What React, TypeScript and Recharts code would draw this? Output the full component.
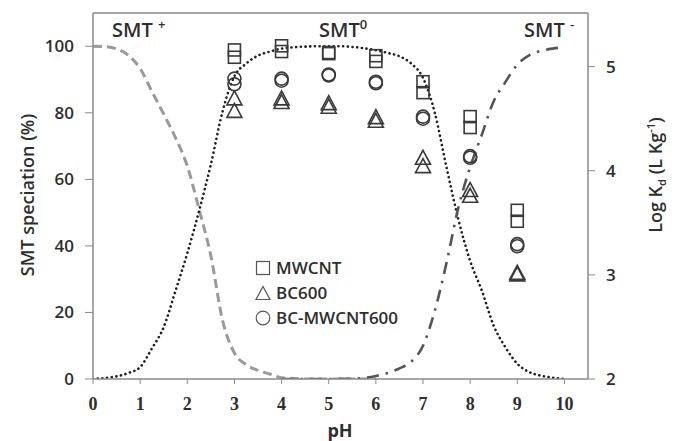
import React from "react";
import {
  ComposedChart,
  Line,
  Scatter,
  XAxis,
  YAxis,
  ReferenceLine,
} from "recharts";

// pH grid for the speciation curves
const curvePH = [
  0, 0.25, 0.5, 0.75, 1, 1.25, 1.5, 1.75, 2, 2.25, 2.5, 2.75, 3, 3.25, 3.5,
  3.75, 4, 4.25, 4.5, 4.75, 5, 5.25, 5.5, 5.75, 6, 6.25, 6.5, 6.75, 7, 7.25,
  7.5, 7.75, 8, 8.25, 8.5, 8.75, 9, 9.25, 9.5, 9.75, 10,
];

// SMT+ (dashed)
const smtPlus = [
  100, 99.9, 99.2, 97.3, 93.3, 86.4, 79.6, 72.5, 64, 51, 37, 17.5, 7.8, 4.3,
  2.6, 1.5, 0.4, 0.15, 0, 0, 0, 0, 0, 0, 0, null, null, null, null, null,
  null, null, null, null, null, null, null, null, null, null, null,
];

// SMT0 (dotted)
const smtZero = [
  0, 0.3, 0.8, 1.8, 3.6, 9.2, 15.6, 26.5, 37.8, 50.5, 64.5, 80.5, 91, 94.8,
  97.2, 98.4, 99.3, 99.7, 99.9, 100, 100, 100, 99.8, 99.4, 98.8, 98, 97, 94.8,
  90.5, 80, 63.5, 48, 35.5, 26.5, 16, 9.5, 4.6, 2.1, 1, 0.4, 0,
];

// SMT- (dash-dot)
const smtMinus = [
  null, null, null, null, null, null, null, null, null, null, null, null, null,
  null, null, null, 0, 0, 0, 0, 0, 0.05, 0.1, 0.3, 0.9, 1.8, 3.2, 5.2, 10,
  20.5, 35, 51.5, 63.7, 73.5, 83.5, 89.3, 94.5, 97.3, 98.6, 99.3, 99.7,
];

// Log Kd measurements, two replicates per pH
const markerPH = [3, 4, 5, 6, 7, 8, 9];
const mwcntA = [5.16, 5.2, 5.135, 5.105, 4.855, 4.52, 3.62];
const mwcntB = [5.09, 5.145, 5.125, 5.05, 4.75, 4.415, 3.515];
const bc600A = [4.69, 4.69, 4.645, 4.51, 4.12, 3.81, 3.015];
const bc600B = [4.57, 4.655, 4.61, 4.475, 4.04, 3.755, 3.0];
const bcMwcntA = [4.885, 4.885, 4.925, 4.855, 4.52, 4.14, 3.295];
const bcMwcntB = [4.83, 4.865, 4.915, 4.84, 4.5, 4.125, 3.275];

const xTicks = [0, 1, 2, 3, 4, 5, 6, 7, 8, 9, 10];
const leftTicks = [0, 20, 40, 60, 80, 100];
const rightTicks = [2, 3, 4, 5];

const axisGray = "#8a8a8a";
const ink = "#2e2e2e";
const markInk = "#3a3a3a";

const curveRows = curvePH.map((ph, i) => ({
  ph,
  plus: smtPlus[i],
  zero: smtZero[i],
  minus: smtMinus[i],
}));

const pairRows = (a: number[], b: number[]) => [
  ...markerPH.map((ph, i) => ({ ph, kd: a[i] })),
  ...markerPH.map((ph, i) => ({ ph, kd: b[i] })),
];

const squareShape = (p: any) => (
  <rect
    x={p.cx - 6}
    y={p.cy - 6}
    width={12}
    height={12}
    fill="none"
    stroke={markInk}
    strokeWidth={1.6}
  />
);

const circleShape = (p: any) => (
  <circle cx={p.cx} cy={p.cy} r={6.5} fill="none" stroke={markInk} strokeWidth={1.6} />
);

const triangleShape = (p: any) => (
  <path
    d={`M${p.cx},${p.cy - 8} L${p.cx + 7.5},${p.cy + 6} L${p.cx - 7.5},${p.cy + 6} Z`}
    fill="none"
    stroke={markInk}
    strokeWidth={1.6}
  />
);

const sans = "'Open Sans', sans-serif";

const LegendIcon = ({ kind }: { kind: string }) => (
  <svg width={17} height={16} style={{ marginRight: 4 }}>
    {kind === "square" && (
      <rect x={1.5} y={1.5} width={13} height={13} fill="none" stroke="#555" strokeWidth={1.2} />
    )}
    {kind === "triangle" && (
      <path d="M8,1.5 L15,14.5 L1,14.5 Z" fill="none" stroke="#555" strokeWidth={1.2} />
    )}
    {kind === "circle" && (
      <circle cx={8} cy={8} r={6.8} fill="none" stroke="#555" strokeWidth={1.2} />
    )}
  </svg>
);

const legendItems = [
  { kind: "square", label: "MWCNT" },
  { kind: "triangle", label: "BC600" },
  { kind: "circle", label: "BC-MWCNT600" },
];

export default function App() {
  return (
    <div
      style={{
        position: "absolute",
        left: 0,
        top: 0,
        width: 678,
        height: 441,
        background: "#fff",
        fontFamily: sans,
        color: ink,
      }}
    >
      <ComposedChart width={678} height={441} margin={{ top: 13, right: 0, bottom: 0, left: 0 }}>
        <XAxis
          dataKey="ph"
          type="number"
          domain={[0, 10.5]}
          ticks={xTicks}
          height={62}
          tickSize={5}
          tickMargin={13}
          stroke={axisGray}
          axisLine={{ stroke: axisGray, strokeWidth: 1.5 }}
          tick={{ fill: ink, fontFamily: "'Liberation Serif', serif", fontWeight: 700, fontSize: 18 }}
          allowDataOverflow
        />
        <YAxis
          yAxisId="left"
          type="number"
          domain={[0, 110]}
          ticks={leftTicks}
          width={93}
          tickSize={8}
          tickMargin={11}
          stroke={axisGray}
          axisLine={{ stroke: axisGray, strokeWidth: 1.5 }}
          tick={{ fill: ink, fontFamily: sans, fontWeight: 600, fontSize: 17 }}
          allowDataOverflow
        />
        <YAxis
          yAxisId="right"
          orientation="right"
          dataKey="kd"
          type="number"
          domain={[2, 5.515]}
          ticks={rightTicks}
          width={90}
          tickSize={7}
          tickMargin={11}
          stroke={axisGray}
          axisLine={{ stroke: axisGray, strokeWidth: 1.5 }}
          tick={{ fill: ink, fontFamily: sans, fontWeight: 600, fontSize: 17, textAnchor: "start" }}
          allowDataOverflow
        />
        <ReferenceLine yAxisId="left" y={110} stroke={axisGray} strokeWidth={1.5} />

        <Line
          yAxisId="left"
          data={curveRows}
          dataKey="plus"
          type="monotone"
          stroke="#9a9a9a"
          strokeWidth={3}
          strokeDasharray="9 5"
          dot={false}
          activeDot={false}
          isAnimationActive={false}
        />
        <Line
          yAxisId="left"
          data={curveRows}
          dataKey="zero"
          type="monotone"
          stroke="#1f1f1f"
          strokeWidth={2.6}
          strokeLinecap="round"
          strokeDasharray="0.1 4.6"
          dot={false}
          activeDot={false}
          isAnimationActive={false}
        />
        <Line
          yAxisId="left"
          data={curveRows}
          dataKey="minus"
          type="monotone"
          stroke="#555"
          strokeWidth={2.6}
          strokeDasharray="12 7 2.5 7"
          dot={false}
          activeDot={false}
          isAnimationActive={false}
        />

        <Scatter
          yAxisId="right"
          data={pairRows(mwcntA, mwcntB)}
          dataKey="kd"
          shape={squareShape}
          isAnimationActive={false}
        />
        <Scatter
          yAxisId="right"
          data={pairRows(bc600A, bc600B)}
          dataKey="kd"
          shape={triangleShape}
          isAnimationActive={false}
        />
        <Scatter
          yAxisId="right"
          data={pairRows(bcMwcntA, bcMwcntB)}
          dataKey="kd"
          shape={circleShape}
          isAnimationActive={false}
        />
      </ComposedChart>

      {/* axis titles */}
      <div
        style={{
          position: "absolute",
          left: 27,
          top: 195,
          transform: "translate(-50%, -50%) rotate(-90deg)",
          whiteSpace: "nowrap",
          fontSize: 18,
          fontWeight: 600,
        }}
      >
        SMT speciation (%)
      </div>
      <div
        style={{
          position: "absolute",
          left: 656,
          top: 175,
          transform: "translate(-50%, -50%) rotate(-90deg)",
          whiteSpace: "nowrap",
          fontSize: 18,
          fontWeight: 600,
        }}
      >
        Log K<sub style={{ fontSize: 11 }}>d</sub> (L Kg<sup style={{ fontSize: 11 }}>-1</sup>)
      </div>
      <div
        style={{
          position: "absolute",
          left: 340,
          top: 430,
          transform: "translate(-50%, -50%)",
          fontSize: 18,
          lineHeight: 1,
          fontWeight: 700,
        }}
      >
        pH
      </div>

      {/* species labels */}
      <div style={{ position: "absolute", left: 112, top: 15, fontSize: 20, fontWeight: 600, whiteSpace: "nowrap" }}>
        SMT <sup style={{ fontSize: 13 }}>+</sup>
      </div>
      <div style={{ position: "absolute", left: 319, top: 15, fontSize: 20, fontWeight: 600, whiteSpace: "nowrap" }}>
        SMT<sup style={{ fontSize: 13 }}>0</sup>
      </div>
      <div style={{ position: "absolute", left: 524, top: 15, fontSize: 20, fontWeight: 600, whiteSpace: "nowrap" }}>
        SMT <sup style={{ fontSize: 13 }}>-</sup>
      </div>

      {/* legend */}
      <div style={{ position: "absolute", left: 255, top: 255 }}>
        {legendItems.map((it) => (
          <div
            key={it.label}
            style={{ display: "flex", alignItems: "center", height: 25, fontSize: 17, fontWeight: 600 }}
          >
            <LegendIcon kind={it.kind} />
            {it.label}
          </div>
        ))}
      </div>
    </div>
  );
}
